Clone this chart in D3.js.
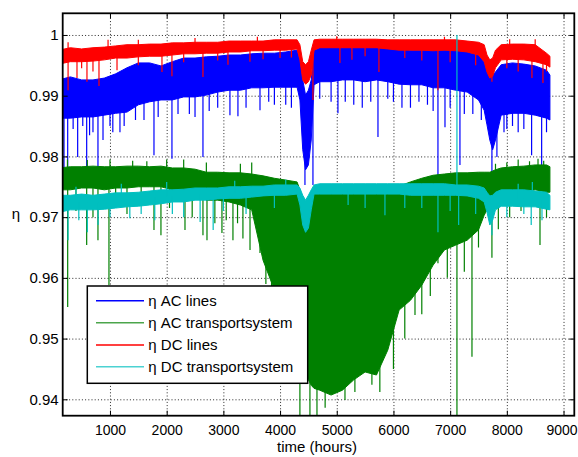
<!DOCTYPE html>
<html><head><meta charset="utf-8">
<script src="https://cdn.jsdelivr.net/npm/d3@7"></script>
<style>body{margin:0;background:#fff}svg{display:block}</style>
</head><body>
<svg id="c" width="578" height="457"></svg>
<script>
// ---- data ----
const hours = [100,300,500,700,900,1100,1300,1500,1700,1900,2100,2300,2500,2700,2900,3100,3300,3500,3700,3900,4100,4300,4350,4400,4450,4500,4550,4600,4700,4900,5100,5300,5500,5700,5900,6100,6300,6500,6700,6900,7100,7300,7500,7600,7650,7700,7750,7800,7900,8100,8300,8500,8700,8760];

const acLinesHi = [.9926,.9931,.9926,.9926,.9929,.9936,.9946,.9954,.9954,.9949,.9956,.9962,.9962,.9964,.9965,.9967,.9967,.9969,.9970,.9970,.9972,.9975,
  .9959,.9926,.9901,.9909,.9926,.9975,
  .9979,.9979,.9979,.9979,.9979,.9979,.9977,.9977,.9975,.9975,.9975,.9975,.9975,.9972,.9967,
  .9956,.9946,.9939,.9934,.9939,
  .9951,.9954,.9952,.9949,.9942,.9934];
const acLinesLo = [.9863,.9863,.9865,.9865,.9868,.9871,.9873,.9885,.9890,.9893,.9893,.9898,.9898,.9901,.9906,.9909,.9909,.9913,.9913,.9914,.9914,.9914,
  .9893,.9811,.9778,.9786,.9827,.9918,
  .9923,.9923,.9926,.9926,.9923,.9926,.9923,.9919,.9918,.9918,.9913,.9913,.9909,.9906,.9893,
  .9876,.9852,.9827,.9811,.9827,
  .9868,.9871,.9871,.9868,.9863,.9860];

const acTransHi = [.9781,.9783,.9783,.9784,.9783,.9783,.9784,.9784,.9783,.9784,.9781,.9781,.9779,.9774,.9774,.9773,.9773,.9771,.9768,.9764,.9761,.9758,
  .9745,.9728,.9712,.9728,.9741,.9745,
  .9745,.9745,.9745,.9745,.9745,.9745,.9748,.9751,.9758,.9764,.9769,.9771,.9773,.9773,.9774,
  .9774,.9774,.9774,.9776,.9778,
  .9781,.9783,.9784,.9786,.9786,.9783];
const acTransLo = [.9745,.9745,.9748,.9748,.9745,.9748,.9748,.9750,.9750,.9750,.9745,.9745,.9741,.9728,.9728,.9725,.9720,.9712,.9629,.9580,.9547,.9514,
  .9489,.9465,.9448,.9432,.9423,.9418,
  .9415,.9407,.9415,.9432,.9445,.9440,.9481,.9547,.9563,.9588,.9621,.9646,.9654,.9662,.9679,
  .9703,.9712,.9712,.9720,.9728,
  .9736,.9740,.9741,.9745,.9741,.9741];

const dcLinesHi = [.9975,.9979,.9977,.9979,.9980,.9982,.9984,.9984,.9985,.9985,.9987,.9987,.9988,.9988,.9988,.9990,.9990,.9990,.9990,.9992,.9992,.9992,
  .9984,.9956,.9951,.9956,.9975,.9992,
  .9993,.9993,.9993,.9993,.9993,.9993,.9992,.9992,.9992,.9992,.9992,.9992,.9992,.9990,.9988,
  .9984,.9967,.9959,.9962,.9975,
  .9984,.9985,.9985,.9984,.9970,.9965];
const dcLinesLo = [.9952,.9956,.9956,.9957,.9959,.9962,.9962,.9964,.9965,.9965,.9967,.9969,.9969,.9970,.9970,.9972,.9972,.9974,.9974,.9975,.9975,.9977,
  .9959,.9926,.9919,.9923,.9934,.9975,
  .9979,.9979,.9979,.9979,.9979,.9979,.9977,.9975,.9975,.9975,.9974,.9975,.9974,.9972,.9967,
  .9956,.9939,.9929,.9932,.9946,
  .9959,.9960,.9959,.9956,.9951,.9947];

const dcTransHi = [.9736,.9736,.9738,.9736,.9738,.9740,.9740,.9741,.9743,.9745,.9745,.9746,.9748,.9748,.9748,.9750,.9750,.9751,.9751,.9753,.9753,.9753,
  .9748,.9736,.9728,.9736,.9745,.9753,
  .9755,.9755,.9755,.9755,.9755,.9755,.9755,.9755,.9755,.9755,.9755,.9755,.9753,.9753,.9751,
  .9748,.9741,.9735,.9736,.9741,
  .9745,.9745,.9745,.9743,.9741,.9736];
const dcTransLo = [.9708,.9712,.9712,.9712,.9713,.9715,.9717,.9718,.9720,.9722,.9725,.9725,.9728,.9728,.9730,.9731,.9731,.9733,.9735,.9736,.9736,.9738,
  .9720,.9687,.9675,.9682,.9712,.9738,
  .9738,.9738,.9738,.9738,.9738,.9738,.9738,.9738,.9736,.9736,.9736,.9736,.9736,.9735,.9731,
  .9725,.9708,.9687,.9695,.9712,
  .9718,.9718,.9717,.9717,.9713,.9712];

// isolated excursions [hour, value]
const acLinesSpikes = [[150,.9850],[189,.9769],[254,.9769],[350,.9845],[430,.9799],[520,.9850],[589,.9783],[640,.9835],[700,.9840],[788,.9776],[877,.9827],[1000,.9850],[1050,.9840],[1176,.9840],[1250,.9850],[1450,.9860],[1600,.9860],[1776,.9802],[1850,.9865],[2093,.9796],[2200,.9870],[2400,.9870],[2500,.9865],[2640,.9799],[2750,.9875],[2900,.9880],[3116,.9868],[3257,.9866],[3400,.9880],[3646,.9876],[3800,.9890],[3900,.9885],[4100,.9885],[4200,.9880],[4439,.9753],[4580,.9753],[4700,.9895],[4900,.9890],[5021,.9871],[5150,.9890],[5300,.9885],[5450,.9880],[5600,.9890],[5727,.9832],[5900,.9895],[6000,.9890],[6150,.9880],[6300,.9880],[6450,.9890],[6600,.9885],[6700,.9875],[6785,.9758],[6909,.9848],[7000,.9880],[7173,.9786],[7250,.9870],[7400,.9870],[7550,.9860],[7737,.9773],[7825,.9799],[7950,.9840],[8000,.9845],[8100,.9850],[8200,.9840],[8300,.9845],[8437,.9802],[8614,.9783],[8700,.9840]];
const acTransSpikes = [[254,.9552],[400,.9710],[589,.9654],[700,.9700],[788,.9662],[982,.9588],[1100,.9715],[1300,.9705],[1550,.9720],[1776,.9679],[1899,.9670],[2050,.9715],[2323,.9679],[2450,.9700],[2640,.9670],[2711,.9662],[2850,.9690],[2975,.9674],[3050,.9695],[3169,.9662],[3250,.9690],[3345,.9665],[3470,.9646],[3600,.9690],[3646,.9641],[3750,.9590],[3850,.9560],[4050,.9520],[4200,.9490],[4350,.9360],[4527,.9360],[4651,.9360],[4795,.9386],[5145,.9399],[5320,.9412],[5620,.9424],[5760,.9412],[6000,.9450],[6200,.9500],[6380,.9539],[6500,.9540],[6650,.9570],[6785,.9624],[6950,.9600],[7120,.9360],[7250,.9610],[7385,.9470],[7500,.9650],[7737,.9633],[7850,.9680],[8050,.9700],[8250,.9710],[8585,.9654],[8700,.9700],
  [250,.9795],[600,.9794],[1000,.9795],[1400,.9793],[1650,.9792],[2000,.9795],[2300,.9795],[2700,.9790],[3300,.9788],[3500,.9790],[7800,.9788],[8000,.9790],[8200,.9795],[8400,.9792],[8550,.9796],[8650,.9793]];
const dcLinesSpikes = [[261,.9909],[418,.9929],[500,.9945],[594,.9923],[700,.9940],[806,.9916],[1124,.9942],[1500,.9950],[1917,.9939],[2093,.9932],[2300,.9955],[2640,.9931],[2900,.9958],[3081,.9951],[3469,.9956],[3700,.9960],[4000,.9962],[4200,.9963],[4580,.9893],[5056,.9954],[5268,.9959],[5500,.9965],[5744,.9939],[6200,.9962],[6500,.9958],[6785,.9909],[7000,.9955],[7450,.9950],[7737,.9923],[8000,.9945],[8200,.9940],[8443,.9929],[8637,.9921],[8700,.9940],
  [261,.9988],[966,.9992],[1500,.9992],[2500,.9995],[3600,.9997],[5000,.9998],[6900,.9997],[8050,.9993],[8500,.9993]];
const dcTransSpikes = [[150,.9690],[260,.9662],[450,.9695],[600,.9675],[790,.9687],[1000,.9700],[1350,.9698],[1550,.9705],[1790,.9695],[2100,.9705],[2300,.9700],[2590,.9692],[2820,.9679],[3000,.9710],[3400,.9705],[3900,.9715],[5200,.9720],[5500,.9715],[5850,.9703],[6200,.9715],[6500,.9715],[6785,.9675],[7000,.9710],[7150,.9687],[7450,.9705],[7737,.9670],[8000,.9700],[8300,.9705],[8430,.9687],[8620,.9695],
  [400,.9750],[1200,.9755],[2000,.9758],[3200,.9760],[4100,.9762],[7120,1.0],[8200,.9755],[8450,.9758]];

const seriesNames = ["\u03B7 AC lines","\u03B7 AC transportsystem","\u03B7 DC lines","\u03B7 DC transportsystem"];
const seriesColors = ["#0000ff","#008000","#ff0000","#00bfbf"];

const xTicks = [1000,2000,3000,4000,5000,6000,7000,8000,9000];
const xTickLabels = ["1000","2000","3000","4000","5000","6000","7000","8000","9000"];
const yTicks = [0.94,0.95,0.96,0.97,0.98,0.99,1.0];
const yTickLabels = ["0.94","0.95","0.96","0.97","0.98","0.99","1"];

// ---- drawing ----
const L = 62.7, R = 574.3, T = 13.3, B = 415.7;
const FONT = "'Liberation Sans', Arial, Helvetica, sans-serif";
const svg = d3.select("#c");
const x = d3.scaleLinear().domain([166, 9190]).range([L, R]);
const y = d3.scaleLinear().domain([0.9373, 1.00357]).range([B, T]);

svg.append("rect").attr("width",578).attr("height",457).attr("fill","#fff");

// grid
const gridX = svg.append("g").attr("transform",`translate(0,${B})`)
  .call(d3.axisBottom(x).tickValues(xTicks).tickSize(-(B-T)).tickFormat(""));
const gridY = svg.append("g").attr("transform",`translate(${L},0)`)
  .call(d3.axisLeft(y).tickValues(yTicks).tickSize(-(R-L)).tickFormat(""));
[gridX, gridY].forEach(g => {
  g.select(".domain").remove();
  g.selectAll("line").attr("stroke","#000").attr("stroke-width",1).attr("stroke-dasharray","1,2.2").attr("opacity",0.85);
});

svg.append("clipPath").attr("id","clip").append("rect")
  .attr("x",L).attr("y",T).attr("width",R-L).attr("height",B-T);
const plot = svg.append("g").attr("clip-path","url(#clip)");

const series = [
  {hi:acLinesHi, lo:acLinesLo, spikes:acLinesSpikes},
  {hi:acTransHi, lo:acTransLo, spikes:acTransSpikes},
  {hi:dcLinesHi, lo:dcLinesLo, spikes:dcLinesSpikes},
  {hi:dcTransHi, lo:dcTransLo, spikes:dcTransSpikes}
];

series.forEach((s, k) => {
  const col = seriesColors[k];
  const rows = hours.map((h,i) => ({h, hi:s.hi[i], lo:s.lo[i]}));
  const area = d3.area().x(d=>x(d.h)).y0(d=>y(d.lo)).y1(d=>y(d.hi));
  plot.append("path").datum(rows).attr("d",area)
    .attr("fill",col).attr("stroke",col).attr("stroke-width",1).attr("stroke-linejoin","round");
  const loAt = d3.scaleLinear().domain(hours).range(s.lo);
  const hiAt = d3.scaleLinear().domain(hours).range(s.hi);
  const line = d3.line().x(d=>x(d[0])).y(d=>y(d[1]));
  s.spikes.forEach(([h,v]) => {
    const mid = (loAt(h)+hiAt(h))/2;
    plot.append("path").attr("d", line([[h,mid],[h,v]]))
      .attr("stroke",col).attr("stroke-width",1.2).attr("fill","none");
  });
});

// axes
function styleAxis(g, fs){
  g.select(".domain").remove();
  g.selectAll("line").attr("stroke","#000").attr("stroke-width",1);
  g.selectAll("text").attr("font-family",FONT).attr("font-size",fs).attr("fill","#000");
}
const ax = svg.append("g").attr("transform",`translate(0,${B})`)
  .call(d3.axisBottom(x).tickValues(xTicks).tickFormat((d,i)=>xTickLabels[i]).tickSizeInner(-5).tickSizeOuter(0).tickPadding(9));
styleAxis(ax, 14);
ax.selectAll(".tick text").filter(d => d === 9000).attr("dx", -2);
const axT = svg.append("g").attr("transform",`translate(0,${T})`)
  .call(d3.axisTop(x).tickValues(xTicks).tickFormat("").tickSizeInner(-5).tickSizeOuter(0));
styleAxis(axT, 14);
const ay = svg.append("g").attr("transform",`translate(${L},0)`)
  .call(d3.axisLeft(y).tickValues(yTicks).tickFormat((d,i)=>yTickLabels[i]).tickSizeInner(-5).tickSizeOuter(0).tickPadding(4));
styleAxis(ay, 15);
const ayR = svg.append("g").attr("transform",`translate(${R},0)`)
  .call(d3.axisRight(y).tickValues(yTicks).tickFormat("").tickSizeInner(-5).tickSizeOuter(0));
styleAxis(ayR, 14);

svg.append("rect").attr("x",L).attr("y",T).attr("width",R-L).attr("height",B-T)
  .attr("fill","none").attr("stroke","#000").attr("stroke-width",1.8);

// labels
svg.append("text").attr("x",317).attr("y",452).attr("text-anchor","middle")
  .attr("font-family",FONT).attr("font-size",15).text("time (hours)");
svg.append("text").attr("x",16).attr("y",219).attr("text-anchor","middle")
  .attr("font-family",FONT).attr("font-size",15).text("\u03B7");

// legend
const lg = svg.append("g");
lg.append("rect").attr("x",87.3).attr("y",286).attr("width",220.4).attr("height",97.3)
  .attr("fill","#fff").attr("stroke","#000").attr("stroke-width",1.5);
const rowsY = [300.7, 322.7, 345, 366.7];
seriesNames.forEach((n,i) => {
  lg.append("line").attr("x1",96).attr("x2",144).attr("y1",rowsY[i]).attr("y2",rowsY[i])
    .attr("stroke",seriesColors[i]).attr("stroke-width",1.5).attr("opacity", i===0||i===2 ? 1 : 0.7);
  lg.append("text").attr("x",148.3).attr("y",rowsY[i]).attr("dy","0.35em")
    .attr("font-family",FONT).attr("font-size",15).text(n);
});
</script>
</body></html>
